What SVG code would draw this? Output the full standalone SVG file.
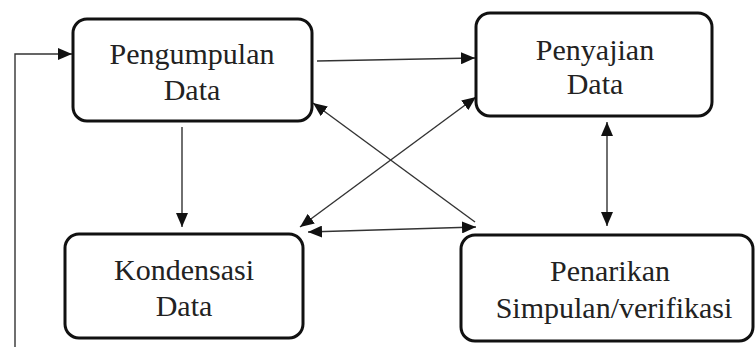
<svg xmlns="http://www.w3.org/2000/svg" width="756" height="347" viewBox="0 0 756 347">
<style>
.box{fill:#fff;stroke:#111;stroke-width:3}
.con{fill:none;stroke:#333;stroke-width:1.4}
</style>
<defs>
<marker id="ah" viewBox="0 0 14 12" refX="14" refY="6" markerWidth="14" markerHeight="12" markerUnits="userSpaceOnUse" orient="auto-start-reverse">
<path d="M0,0 L14,6 L0,12 z" fill="#111"/>
</marker>
</defs>
<rect width="756" height="347" fill="#fff"/>
<g id="connectors">
<path class="con" d="M317,61 L475,58" marker-end="url(#ah)"/>
<path class="con" d="M15,347 L15,54 L72,54" marker-end="url(#ah)"/>
<path class="con" d="M182,127 L182,227" marker-end="url(#ah)"/>
<path class="con" d="M475,222 L313,103" marker-end="url(#ah)"/>
<path class="con" d="M300,227 L476,97" marker-start="url(#ah)" marker-end="url(#ah)"/>
<path class="con" d="M308,232 L476,227" marker-start="url(#ah)" marker-end="url(#ah)"/>
<path class="con" d="M607,122 L607,226" marker-start="url(#ah)" marker-end="url(#ah)"/>
</g>
<g id="pengumpulan">
<rect class="box" x="73" y="19" width="239" height="102" rx="14"/>
<text x="192" y="64" font-size="30" fill="#222" text-anchor="middle" font-family="'Liberation Serif', serif">Pengumpulan</text>
<text x="192" y="100" font-size="30" fill="#222" text-anchor="middle" font-family="'Liberation Serif', serif">Data</text>
</g>
<g id="penyajian">
<rect class="box" x="476" y="13" width="236" height="103" rx="14"/>
<text x="595" y="60" font-size="30" fill="#222" text-anchor="middle" font-family="'Liberation Serif', serif">Penyajian</text>
<text x="595" y="94" font-size="30" fill="#222" text-anchor="middle" font-family="'Liberation Serif', serif">Data</text>
</g>
<g id="kondensasi">
<rect class="box" x="65" y="234" width="238" height="104" rx="14"/>
<text x="184" y="280" font-size="30" fill="#222" text-anchor="middle" font-family="'Liberation Serif', serif">Kondensasi</text>
<text x="184" y="316" font-size="30" fill="#222" text-anchor="middle" font-family="'Liberation Serif', serif">Data</text>
</g>
<g id="penarikan">
<rect class="box" x="461" y="235" width="292" height="106" rx="14"/>
<text x="610" y="281" font-size="30" fill="#222" text-anchor="middle" font-family="'Liberation Serif', serif">Penarikan</text>
<text x="614" y="318" font-size="30" fill="#222" text-anchor="middle" font-family="'Liberation Serif', serif">Simpulan/verifikasi</text>
</g>
</svg>
